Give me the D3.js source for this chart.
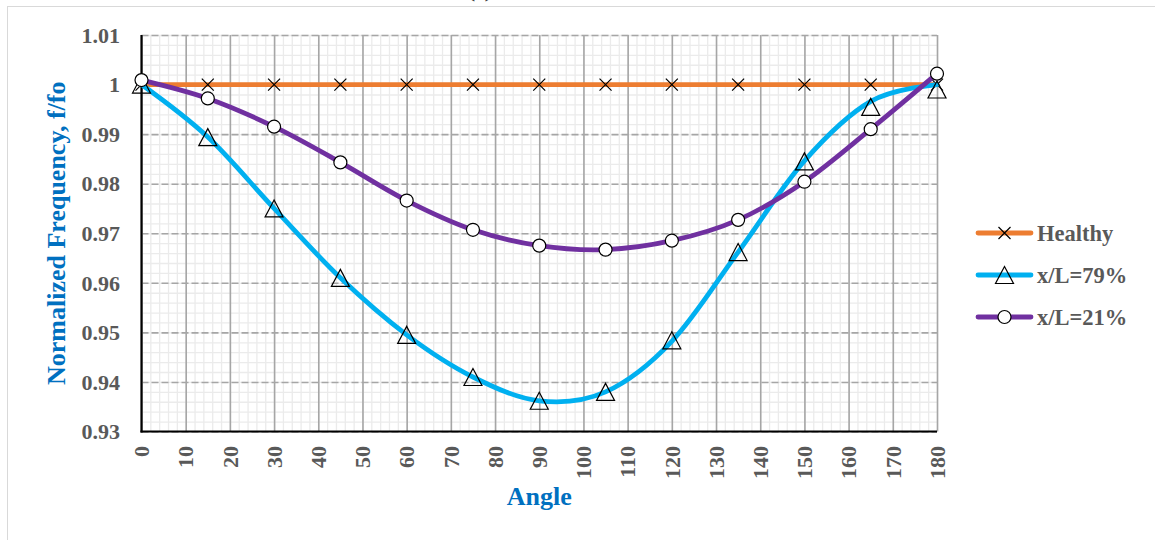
<!DOCTYPE html>
<html>
<head>
<meta charset="utf-8">
<script src="https://cdn.jsdelivr.net/npm/d3@7"></script>
<style>
  html, body { margin: 0; padding: 0; background: #fff; }
  svg { display: block; font-family: "Liberation Serif", "Times New Roman", serif; }
</style>
</head>
<body>
<svg id="chart" width="1155" height="540"></svg>
<script>
// Angles (degrees) at which the natural frequency was evaluated
const angles = [0, 15, 30, 45, 60, 75, 90, 105, 120, 135, 150, 165, 180];

// Normalized frequency f/fo, one array per case
const healthy = [1, 1, 1, 1, 1, 1, 1, 1, 1, 1, 1, 1, 1];
const crack79Points = [1.0, 0.9894, 0.975, 0.961, 0.9495, 0.941, 0.9362, 0.938, 0.9484, 0.9662, 0.9845, 0.9955, 0.999];
const crack79Curve  = [1.0, 0.9894, 0.975, 0.961, 0.9495, 0.941, 0.9362, 0.938, 0.9482, 0.9662, 0.9846, 0.9966, 1.0];
const crack21 = [1.0009, 0.9972, 0.9915, 0.9843, 0.9766, 0.9707, 0.9675, 0.9667, 0.9685, 0.9727, 0.9804, 0.991, 1.0022];

// Axis ticks
const xTicks = [0, 10, 20, 30, 40, 50, 60, 70, 80, 90, 100, 110, 120, 130, 140, 150, 160, 170, 180];
const yTicks = [0.93, 0.94, 0.95, 0.96, 0.97, 0.98, 0.99, 1, 1.01];

// Legend entries
const seriesNames = ["Healthy", "x/L=79%", "x/L=21%"];
const seriesColors = ["#ED7D31", "#00B0F0", "#7030A0"];

const svg = d3.select("#chart");
const plotLeft = 141.5, plotRight = 937, plotTop = 35, plotBottom = 431.5;

const x = d3.scaleLinear().domain([0, 180]).range([plotLeft, plotRight]);
const y = d3.scaleLinear().domain([0.93, 1.01]).range([plotBottom, plotTop]);

// Outer chart frame
svg.append("rect")
  .attr("x", 7.5).attr("y", 6.5).attr("width", 1300).attr("height", 700)
  .attr("fill", "#fff").attr("stroke", "#d9d9d9").attr("stroke-width", 1);

// Panel title, sitting above the frame
svg.append("text")
  .attr("x", 480).attr("y", -3)
  .attr("text-anchor", "middle")
  .attr("font-size", 22).attr("font-weight", "bold").attr("fill", "#404040")
  .text("(c)");

const plot = svg.append("g");

// Minor gridlines
const minorX = d3.range(0, 181, 2);
const minorY = d3.range(0, 41).map(i => 0.93 + i * 0.002);

plot.append("g")
  .attr("transform", `translate(0,${plotBottom})`)
  .call(d3.axisBottom(x).tickValues(minorX).tickSize(-(plotBottom - plotTop)).tickFormat(""))
  .call(g => g.select(".domain").remove())
  .call(g => g.selectAll("line").attr("stroke", "#ebebeb").attr("stroke-width", 1.3));

plot.append("g")
  .attr("transform", `translate(${plotLeft},0)`)
  .call(d3.axisLeft(y).tickValues(minorY).tickSize(-(plotRight - plotLeft)).tickFormat(""))
  .call(g => g.select(".domain").remove())
  .call(g => g.selectAll("line").attr("stroke", "#ebebeb").attr("stroke-width", 1.3));

// Major gridlines
plot.append("g")
  .attr("transform", `translate(0,${plotBottom})`)
  .call(d3.axisBottom(x).tickValues(xTicks).tickSize(-(plotBottom - plotTop)).tickFormat(""))
  .call(g => g.select(".domain").remove())
  .call(g => g.selectAll("line").attr("stroke", "#a6a6a6").attr("stroke-width", 1.6));

plot.append("g")
  .attr("transform", `translate(${plotLeft},0)`)
  .call(d3.axisLeft(y).tickValues(yTicks).tickSize(-(plotRight - plotLeft)).tickFormat(""))
  .call(g => g.select(".domain").remove())
  .call(g => g.selectAll("line").attr("stroke", "#a6a6a6").attr("stroke-width", 1.6)
    .attr("stroke-dasharray", "7,3"));

// Axis lines
plot.append("line")
  .attr("x1", plotLeft).attr("x2", plotLeft).attr("y1", plotTop).attr("y2", plotBottom + 1)
  .attr("stroke", "#000").attr("stroke-width", 2.2);
plot.append("line")
  .attr("x1", plotLeft - 1).attr("x2", plotRight).attr("y1", plotBottom).attr("y2", plotBottom)
  .attr("stroke", "#000").attr("stroke-width", 2.2);

// Tick labels
const yFmt = d => String(+d.toFixed(2));
svg.append("g")
  .selectAll("text")
  .data(yTicks)
  .join("text")
  .attr("x", 120)
  .attr("y", d => y(d))
  .attr("dy", "0.35em")
  .attr("text-anchor", "end")
  .attr("font-size", 22).attr("font-weight", "bold").attr("fill", "#595959")
  .text(yFmt);

svg.append("g")
  .selectAll("text")
  .data(xTicks)
  .join("text")
  .attr("transform", d => `translate(${x(d)},446) rotate(-90)`)
  .attr("dy", "0.35em")
  .attr("text-anchor", "end")
  .attr("font-size", 22).attr("font-weight", "bold").attr("fill", "#595959")
  .text(d => d);

// Axis titles
svg.append("text")
  .attr("x", (plotLeft + plotRight) / 2).attr("y", 505)
  .attr("text-anchor", "middle")
  .attr("font-size", 26).attr("font-weight", "bold").attr("fill", "#0070C0")
  .text("Angle");

svg.append("text")
  .attr("transform", `translate(56,${(plotTop + plotBottom) / 2}) rotate(-90)`)
  .attr("dy", "0.35em")
  .attr("text-anchor", "middle")
  .attr("font-size", 26).attr("font-weight", "bold").attr("fill", "#0070C0")
  .text("Normalized Frequency, f/fo");

// Marker shapes
const crossPath = "M-6,-6L6,6M-6,6L6,-6";
const triPath = "M0,-8.5L9,8.5L-9,8.5Z";

function drawCross(g, cx, cy) {
  g.append("path").attr("d", crossPath).attr("transform", `translate(${cx},${cy})`)
    .attr("fill", "none").attr("stroke", "#000").attr("stroke-width", 1.2);
}
function drawTri(g, cx, cy) {
  g.append("path").attr("d", triPath).attr("transform", `translate(${cx},${cy})`)
    .attr("fill", "none").attr("stroke", "#000").attr("stroke-width", 1.2);
}
function drawCircle(g, cx, cy) {
  g.append("circle").attr("cx", cx).attr("cy", cy).attr("r", 6.5)
    .attr("fill", "#fff").attr("stroke", "#000").attr("stroke-width", 1.2);
}

const line = d3.line()
  .x(d => x(d[0]))
  .y(d => y(d[1]))
  .curve(d3.curveCardinal.tension(0));

const series = [
  { curve: healthy, points: healthy, draw: drawCross },
  { curve: crack79Curve, points: crack79Points, draw: drawTri },
  { curve: crack21, points: crack21, draw: drawCircle }
];

series.forEach((s, i) => {
  const g = plot.append("g");
  g.append("path")
    .attr("d", line(angles.map((a, k) => [a, s.curve[k]])))
    .attr("fill", "none")
    .attr("stroke", seriesColors[i])
    .attr("stroke-width", 4.8)
    .attr("stroke-linecap", "round")
    .attr("stroke-linejoin", "round");
  angles.forEach((a, k) => s.draw(g, x(a), y(s.points[k])));
});

// Legend
const legend = svg.append("g");
const legendY = [233, 275, 317];
seriesNames.forEach((name, i) => {
  const g = legend.append("g");
  const ly = legendY[i];
  g.append("line")
    .attr("x1", 978).attr("x2", 1031).attr("y1", ly).attr("y2", ly)
    .attr("stroke", seriesColors[i]).attr("stroke-width", 4.8)
    .attr("stroke-linecap", "round");
  series[i].draw(g, 1004.5, ly);
  g.append("text")
    .attr("x", 1037).attr("y", ly + 7.5)
    .attr("font-size", 22.5).attr("font-weight", "bold").attr("fill", "#595959")
    .text(name);
});
</script>
</body>
</html>
